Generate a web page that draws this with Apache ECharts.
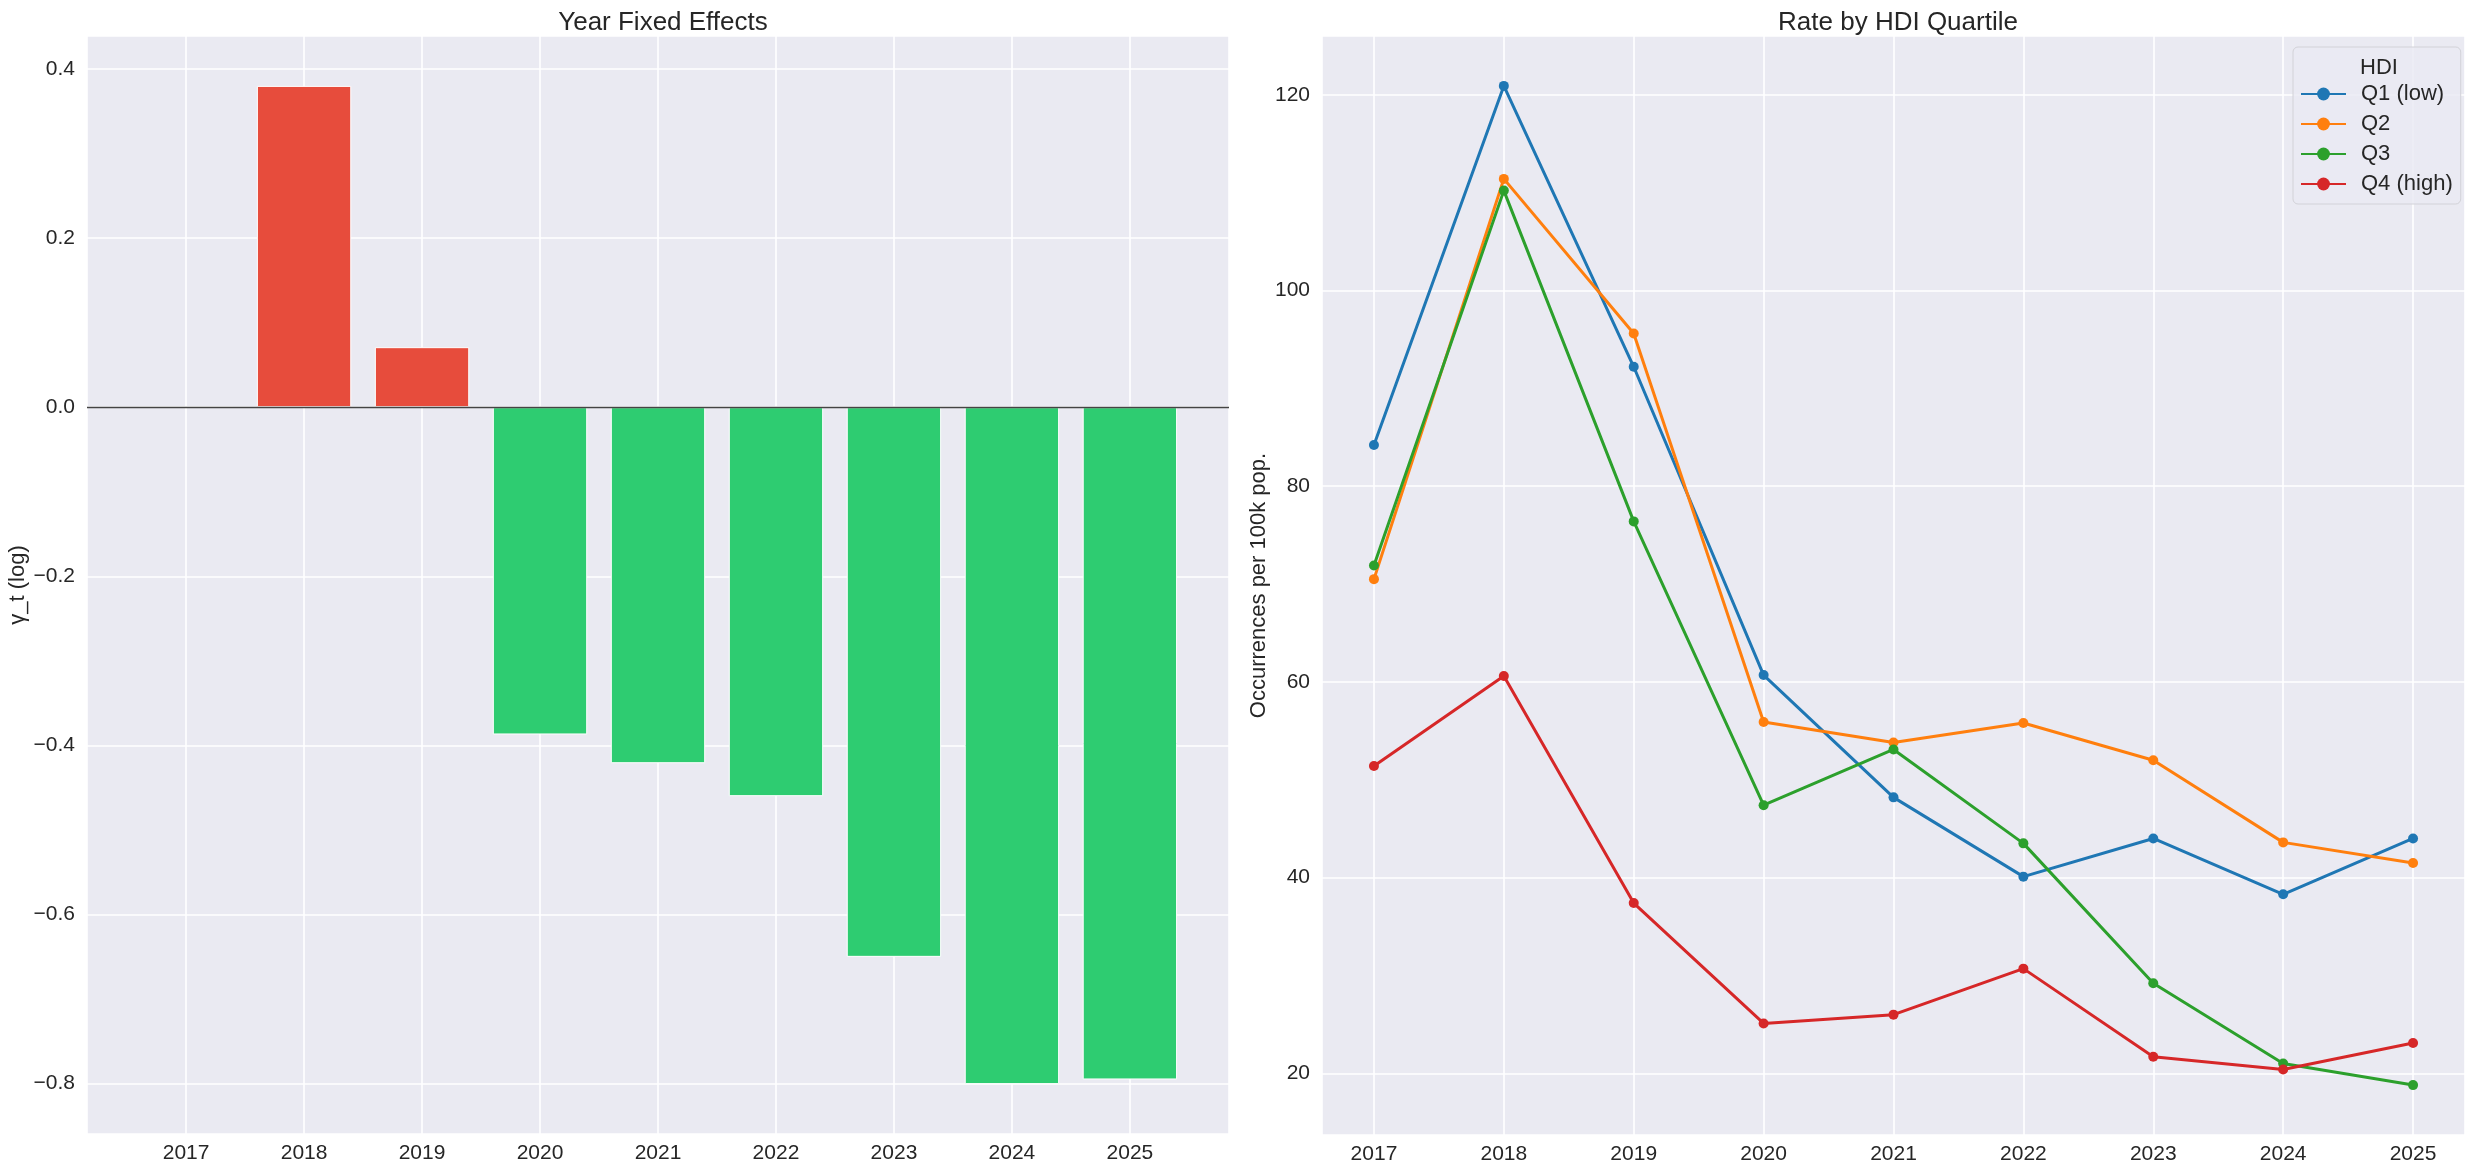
<!DOCTYPE html>
<html><head><meta charset="utf-8">
<script src="https://cdn.jsdelivr.net/npm/echarts@6/dist/echarts.min.js"></script>
<style>html,body{margin:0;padding:0;background:#fff}#c{width:2474px;height:1174px}</style>
</head><body><div id="c"></div>
<script>
const years = ['2017','2018','2019','2020','2021','2022','2023','2024','2025'];
const yearEffects = [0, 0.380, 0.071, -0.387, -0.421, -0.460, -0.650, -0.8005, -0.795];
const quartileNames = ['Q1 (low)', 'Q2', 'Q3', 'Q4 (high)'];
const q1Low = [84.2, 120.9, 92.2, 60.7, 48.2, 40.1, 44.0, 38.3, 44.0];
const q2 = [70.5, 111.4, 95.6, 55.9, 53.8, 55.8, 52.0, 43.6, 41.5];
const q3 = [71.9, 110.2, 76.4, 47.4, 53.1, 43.5, 29.2, 21.0, 18.8];
const q4High = [51.4, 60.6, 37.4, 25.1, 26.0, 30.7, 21.7, 20.4, 23.1];
const leftYTicks = [-0.8, -0.6, -0.4, -0.2, 0.0, 0.2, 0.4];
const rightYTicks = [20, 40, 60, 80, 100, 120];

const FONT = '"Liberation Sans", Arial, sans-serif';
const TXT = '#262626';
const quartileColors = ['#1f77b4', '#ff7f0e', '#2ca02c', '#d62728'];
const quartileData = [q1Low, q2, q3, q4High];

function yearLabel(v) {
  const i = Math.round(v);
  return (Math.abs(v - i) < 1e-6 && years[i] !== undefined) ? years[i] : '';
}
function tickLabel(list, digits) {
  return function (v) {
    const t = list.find(x => Math.abs(x - v) < 1e-6);
    if (t === undefined) return '';
    const s = Math.abs(t) < 1e-9 ? (0).toFixed(digits) : t.toFixed(digits);
    return s.replace('-', '\u2212');
  };
}

const chart = echarts.init(document.getElementById('c'), null, {renderer: 'canvas'});

const axisCommon = {
  axisLine: {show: false},
  axisTick: {show: false},
  splitLine: {show: true, lineStyle: {color: '#ffffff', width: 1.6}},
};

const option = {
  backgroundColor: '#ffffff',
  animation: false,
  textStyle: {fontFamily: FONT, color: TXT},
  title: [
    {text: 'Year Fixed Effects', left: 658, top: 5, textAlign: 'center',
     textStyle: {fontFamily: FONT, fontSize: 26, fontWeight: 'normal', color: TXT}},
    {text: 'Rate by HDI Quartile', left: 1893, top: 5, textAlign: 'center',
     textStyle: {fontFamily: FONT, fontSize: 26, fontWeight: 'normal', color: TXT}},
    {text: 'HDI', left: 2374, top: 52, textAlign: 'center', z: 10,
     textStyle: {fontFamily: FONT, fontSize: 22, fontWeight: 'normal', color: TXT}}
  ],
  legend: {
    data: quartileNames,
    orient: 'vertical',
    left: 2293, top: 47,
    padding: [36, 8, 9, 7],
    itemWidth: 45, itemHeight: 16, itemGap: 8,
    backgroundColor: 'rgba(234,234,242,0.8)',
    borderColor: '#d2d2d8', borderWidth: 1, borderRadius: 5,
    textStyle: {fontFamily: FONT, fontSize: 22, color: TXT, padding: [0, 0, 0, 10]}
  },
  grid: [
    {left: 87, right: 1245, top: 36, bottom: 40, show: true, backgroundColor: '#eaeaf2',
     borderWidth: 0, containLabel: false, outerBoundsMode: 'none'},
    {left: 1322, right: 9, top: 36, bottom: 39, show: true, backgroundColor: '#eaeaf2',
     borderWidth: 0, containLabel: false, outerBoundsMode: 'none'}
  ],
  xAxis: [
    Object.assign({}, axisCommon, {gridIndex: 0, type: 'value', min: -0.84, max: 8.84, splitNumber: 10,
      axisLabel: {formatter: yearLabel, fontSize: 21, color: TXT, margin: 9, fontFamily: FONT}}),
    Object.assign({}, axisCommon, {gridIndex: 1, type: 'value', min: -0.4, max: 8.4, splitNumber: 10,
      axisLabel: {formatter: yearLabel, fontSize: 21, color: TXT, margin: 9, fontFamily: FONT}})
  ],
  yAxis: [
    Object.assign({}, axisCommon, {gridIndex: 0, type: 'value', min: -0.8595, max: 0.439, splitNumber: 6,
      name: '\u03b3_t (log)', nameLocation: 'middle', nameGap: 58,
      nameTextStyle: {fontSize: 22, color: TXT, fontFamily: FONT},
      axisLabel: {formatter: tickLabel(leftYTicks, 1), fontSize: 21, color: TXT, margin: 12, fontFamily: FONT}}),
    Object.assign({}, axisCommon, {gridIndex: 1, type: 'value', min: 13.7, max: 126.0, splitNumber: 5,
      name: 'Occurrences per 100k pop.', nameLocation: 'middle', nameGap: 52,
      nameTextStyle: {fontSize: 22, color: TXT, fontFamily: FONT},
      axisLabel: {formatter: tickLabel(rightYTicks, 0), fontSize: 21, color: TXT, margin: 12, fontFamily: FONT}})
  ],
  series: [
    {
      type: 'bar', xAxisIndex: 0, yAxisIndex: 0,
      data: yearEffects.map((v, i) => [i, v]),
      barWidth: '80%',
      itemStyle: {
        color: p => (p.value[1] > 0 ? '#e74c3c' : '#2ecc71'),
        borderColor: '#ffffff', borderWidth: 1
      },
      markLine: {
        silent: true, symbol: 'none', z: 10,
        label: {show: false},
        lineStyle: {color: '#444444', width: 1.3, type: 'solid'},
        data: [{yAxis: 0}]
      }
    }
  ].concat(quartileNames.map((name, k) => ({
    name: name, type: 'line', xAxisIndex: 1, yAxisIndex: 1,
    data: quartileData[k].map((v, i) => [i, v]),
    symbol: 'circle', symbolSize: 10, showSymbol: true,
    color: quartileColors[k],
    lineStyle: {width: 3, color: quartileColors[k]},
    itemStyle: {color: quartileColors[k]},
    z: 2 + k
  })))
};
chart.setOption(option);
</script>
</body></html>
